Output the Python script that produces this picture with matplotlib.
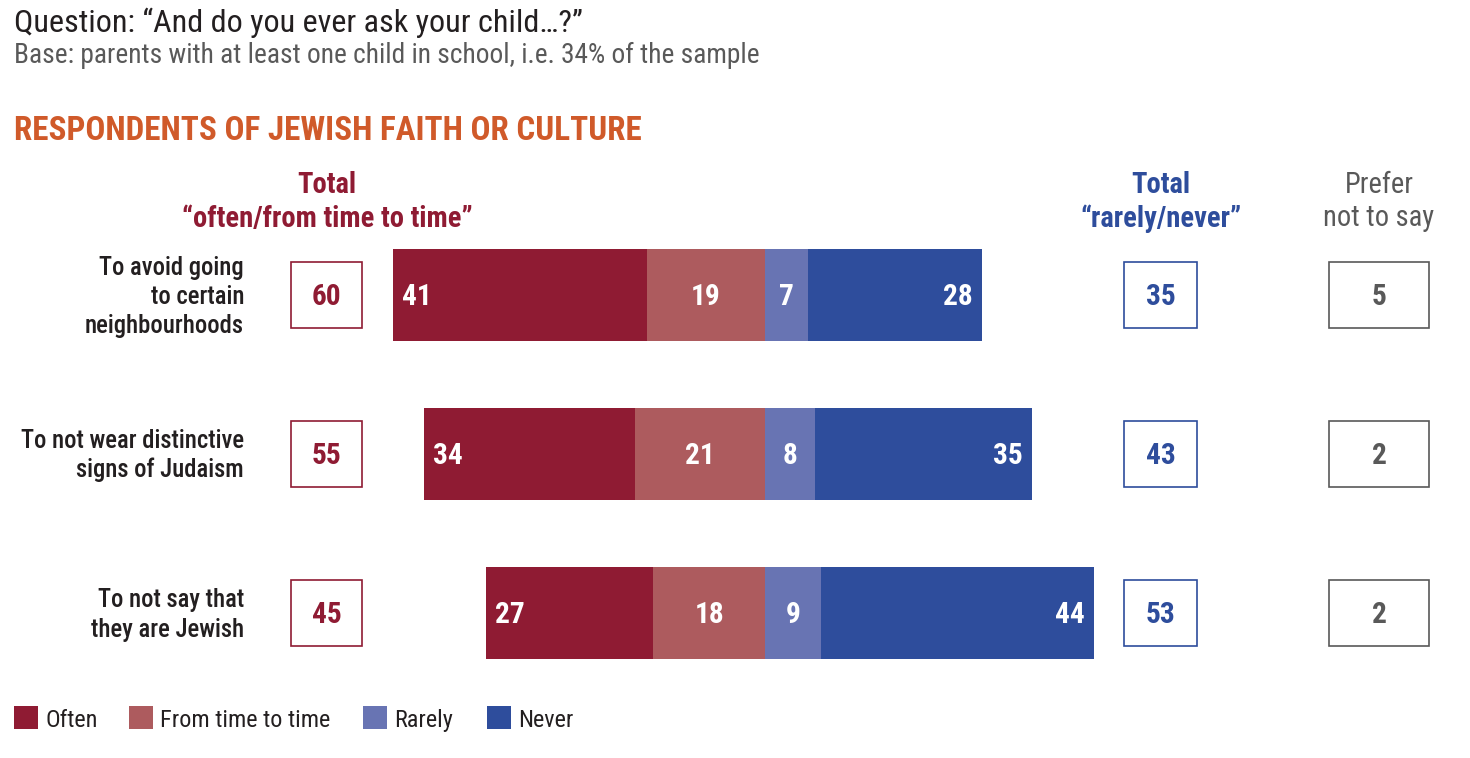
import matplotlib
matplotlib.use('Agg')
import matplotlib.pyplot as plt
from matplotlib.patches import Rectangle

plt.rcParams['font.family'] = ['Roboto Condensed', 'DejaVu Sans']

# data
rows = [["To avoid going", "to certain", "neighbourhoods"],
        ["To not wear distinctive", "signs of Judaism"],
        ["To not say that", "they are Jewish"]]
often = [41, 34, 27]
from_time = [19, 21, 18]
rarely = [7, 8, 9]
never = [28, 35, 44]
total_often = [60, 55, 45]
total_rarely = [35, 43, 53]
prefer_not = [5, 2, 2]
series_names = ["Often", "From time to time", "Rarely", "Never"]

C_OFTEN = '#8f1b33'
C_FTT = '#ad5b5e'
C_RARE = '#6874b3'
C_NEVER = '#2e4d9c'
C_GREY = '#595959'
C_DARK = '#231f20'
C_ORANGE = '#d05a2a'

W, H = 1470, 758
CENTER_PX = 765
PX_PER_UNIT = 6.2
ROW0_PX = 295
ROW_STEP = 159


def px2x(px):
    return (px - CENTER_PX) / PX_PER_UNIT


def py2y(py):
    return (py - ROW0_PX) / ROW_STEP


fig = plt.figure(figsize=(W / 100, H / 100), dpi=100)
ax = fig.add_axes([0, 0, 1, 1])
ax.set_xlim(px2x(0), px2x(W))
ax.set_ylim(py2y(H), py2y(0))
ax.axis('off')
renderer = fig.canvas.get_renderer()


def fit(t, width_px):
    # scale a text so that its rendered width matches the reference
    w = t.get_window_extent(renderer=renderer).width
    t.set_fontsize(t.get_fontsize() * width_px / w)
    return t.get_fontsize()


def txt(x_px, y_px, s, **kw):
    return ax.text(px2x(x_px), py2y(y_px), s, va='baseline', **kw)


# titles
fit(txt(14, 32, "Question: \u201cAnd do you ever ask your child\u2026?\u201d",
        fontsize=19, color=C_DARK), 570)
fit(txt(14, 63, "Base: parents with at least one child in school, i.e. 34% of the sample",
        fontsize=17, color=C_GREY), 745)
fit(txt(14, 140, "RESPONDENTS OF JEWISH FAITH OR CULTURE",
        fontsize=22, fontweight='bold', color=C_ORANGE), 627)

# column headers
hdr = txt(327, 227, "\u201coften/from time to time\u201d", fontsize=17,
          fontweight='bold', color=C_OFTEN, ha='center')
hsize = fit(hdr, 291)
txt(327, 193, "Total", fontsize=hsize, fontweight='bold', color=C_OFTEN, ha='center')
txt(1161, 193, "Total", fontsize=hsize, fontweight='bold', color=C_NEVER, ha='center')
txt(1161, 227, "\u201crarely/never\u201d", fontsize=hsize, fontweight='bold',
    color=C_NEVER, ha='center')
txt(1379, 193, "Prefer", fontsize=hsize, color=C_GREY, ha='center')
txt(1379, 226, "not to say", fontsize=hsize, color=C_GREY, ha='center')

# row labels
probe = txt(243, 449, rows[1][0], fontsize=17, color=C_DARK, ha='right',
            fontweight=500)
lsize = fit(probe, 224)
probe.remove()
for i, lines in enumerate(rows):
    n = len(lines)
    for k, line in enumerate(lines):
        off = 9 + (k - (n - 1) / 2) * 29
        ax.text(px2x(244), i + off / ROW_STEP, line, ha='right', va='baseline',
                fontsize=lsize, color=C_DARK, fontweight=500)

# bars
bar_h = 92 / ROW_STEP
ypos = list(range(len(often)))
left_o = [-(o + f) for o, f in zip(often, from_time)]
left_f = [-f for f in from_time]
ax.barh(ypos, often, left=left_o, height=bar_h, color=C_OFTEN)
ax.barh(ypos, from_time, left=left_f, height=bar_h, color=C_FTT)
ax.barh(ypos, rarely, left=0, height=bar_h, color=C_RARE)
ax.barh(ypos, never, left=rarely, height=bar_h, color=C_NEVER)

nsize = hsize * 1.03
base = 10 / ROW_STEP
num_kw = dict(color='white', fontsize=nsize, fontweight='bold', va='baseline')
pad = 9 / PX_PER_UNIT
for i in ypos:
    ax.text(left_o[i] + pad, i + base, str(often[i]), ha='left', **num_kw)
    ax.text(left_f[i] / 2, i + base, str(from_time[i]), ha='center', **num_kw)
    ax.text(rarely[i] / 2, i + base, str(rarely[i]), ha='center', **num_kw)
    ax.text(rarely[i] + never[i] - pad, i + base, str(never[i]), ha='right', **num_kw)

# total boxes
box_h = 66 / ROW_STEP
boxes = [(326.5, 71, total_often, C_OFTEN),
         (1160.5, 73, total_rarely, C_NEVER),
         (1379, 100, prefer_not, C_GREY)]
for cx_px, w_px, vals, col in boxes:
    cx = px2x(cx_px)
    bw = w_px / PX_PER_UNIT
    for i in ypos:
        ax.add_patch(Rectangle((cx - bw / 2, i - box_h / 2), bw, box_h,
                               facecolor='white', edgecolor=col, linewidth=1.2))
        ax.text(cx, i + base, str(vals[i]), ha='center', va='baseline',
                fontsize=nsize, fontweight='bold', color=col)

# legend
leg_x = [14, 129, 363, 487]
leg_colors = [C_OFTEN, C_FTT, C_RARE, C_NEVER]
probe = txt(160, 727, series_names[1], fontsize=16, color=C_DARK)
gsize = fit(probe, 171)
probe.remove()
for x_px, col, name in zip(leg_x, leg_colors, series_names):
    ax.add_patch(Rectangle((px2x(x_px), py2y(729)), 24 / PX_PER_UNIT,
                           -23 / ROW_STEP, facecolor=col, edgecolor='none'))
    txt(x_px + 31, 727, name, fontsize=gsize, color=C_DARK)

fig.savefig('out.png', dpi=100, facecolor='white')
